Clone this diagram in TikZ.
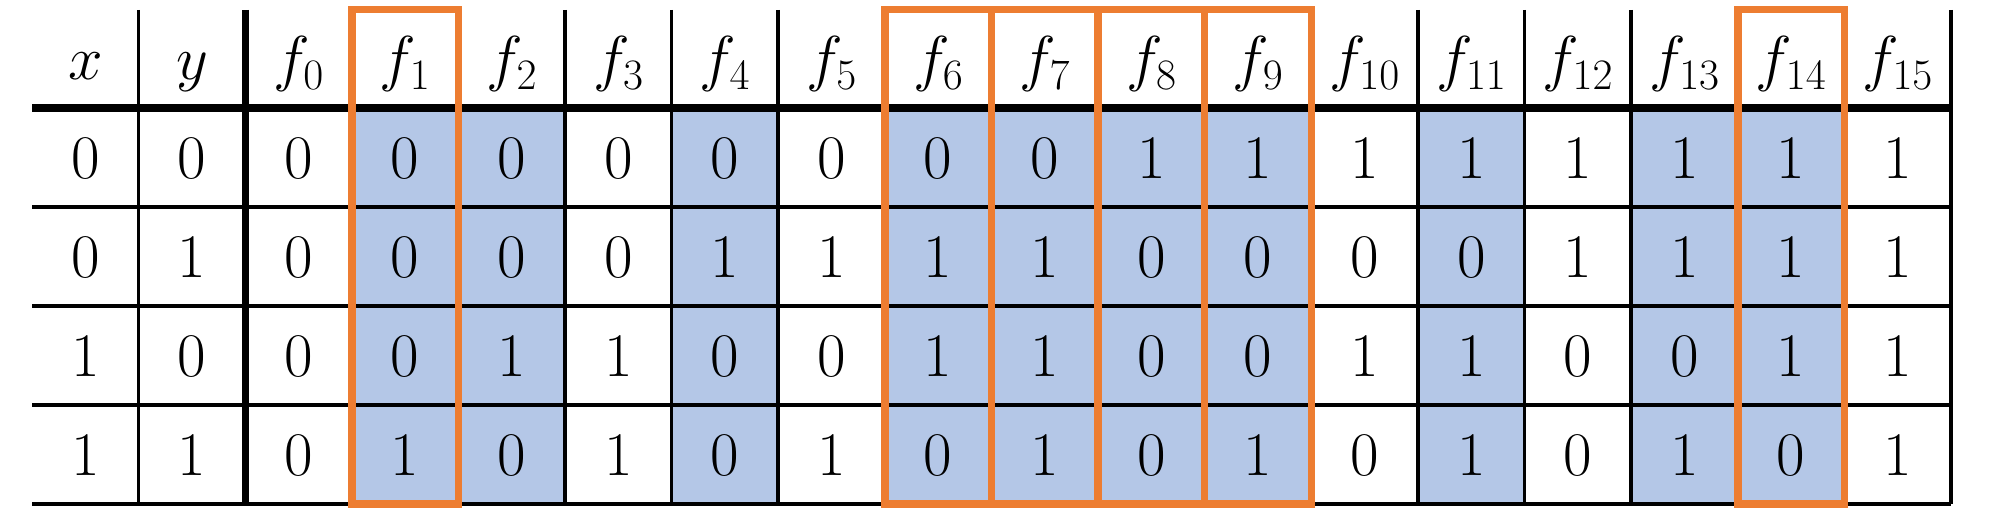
\RequirePackage{fix-cm}
\documentclass[tikz,border=0pt]{standalone}
\definecolor{cellblue}{HTML}{B4C7E7}
\definecolor{boxorange}{HTML}{ED7D31}
\begin{document}
\begin{tikzpicture}[x=1pt,y=-1pt,
  celltxt/.style={inner sep=0pt, anchor=base, font=\fontsize{62}{64}\selectfont},
  gridline/.style={line width=3.6pt, black},
  heavyline/.style={line width=8pt, black},
  heavyvline/.style={line width=7pt, black},
  shade/.style={fill=cellblue},
  hilite/.style={draw=boxorange, line width=7.5pt}]
\useasboundingbox (0,0) rectangle (2011,527);
\def\W{106.61}
\def\X{32}
% shaded data cells
\foreach \i in {3,4,6,8,9,10,11,13,15,16}{
  \fill[shade] ({\X+\i*\W},108) rectangle ({\X+(\i+1)*\W},504);
}
% grid
\foreach \i in {1,3,4,...,18}{
  \draw[gridline] ({\X+\i*\W},10) -- ({\X+\i*\W},504);
}
\draw[heavyvline] ({\X+2*\W},10) -- ({\X+2*\W},504);
\foreach \y in {207,306,405,504}{
  \draw[gridline] (\X,\y) -- ({\X+18*\W},\y);
}
\draw[heavyline] (\X,108) -- ({\X+18*\W},108);
% orange highlight boxes
\foreach \i in {3,8,9,10,11,16}{
  \draw[hilite] ({\X+\i*\W},9.5) rectangle ({\X+(\i+1)*\W},504);
}
% texts
\foreach \i/\lab/\a/\b/\c/\d in {
  0/x/0/0/1/1, 1/y/0/1/0/1,
  2/f_{0}/0/0/0/0, 3/f_{1}/0/0/0/1, 4/f_{2}/0/0/1/0, 5/f_{3}/0/0/1/1,
  6/f_{4}/0/1/0/0, 7/f_{5}/0/1/0/1, 8/f_{6}/0/1/1/0, 9/f_{7}/0/1/1/1,
  10/f_{8}/1/0/0/0, 11/f_{9}/1/0/0/1, 12/f_{10}/1/0/1/0, 13/f_{11}/1/0/1/1,
  14/f_{12}/1/1/0/0, 15/f_{13}/1/1/0/1, 16/f_{14}/1/1/1/0, 17/f_{15}/1/1/1/1}{
  \pgfmathsetmacro\cx{\X+(\i+0.5)*\W}
  \node[celltxt] (h\i) at (\cx,80) {$\lab$};
  \node[celltxt] (c\i-1) at (\cx,178) {\a};
  \node[celltxt] (c\i-2) at (\cx,277) {\b};
  \node[celltxt] (c\i-3) at (\cx,376) {\c};
  \node[celltxt] (c\i-4) at (\cx,475) {\d};
}
\end{tikzpicture}
\end{document}
